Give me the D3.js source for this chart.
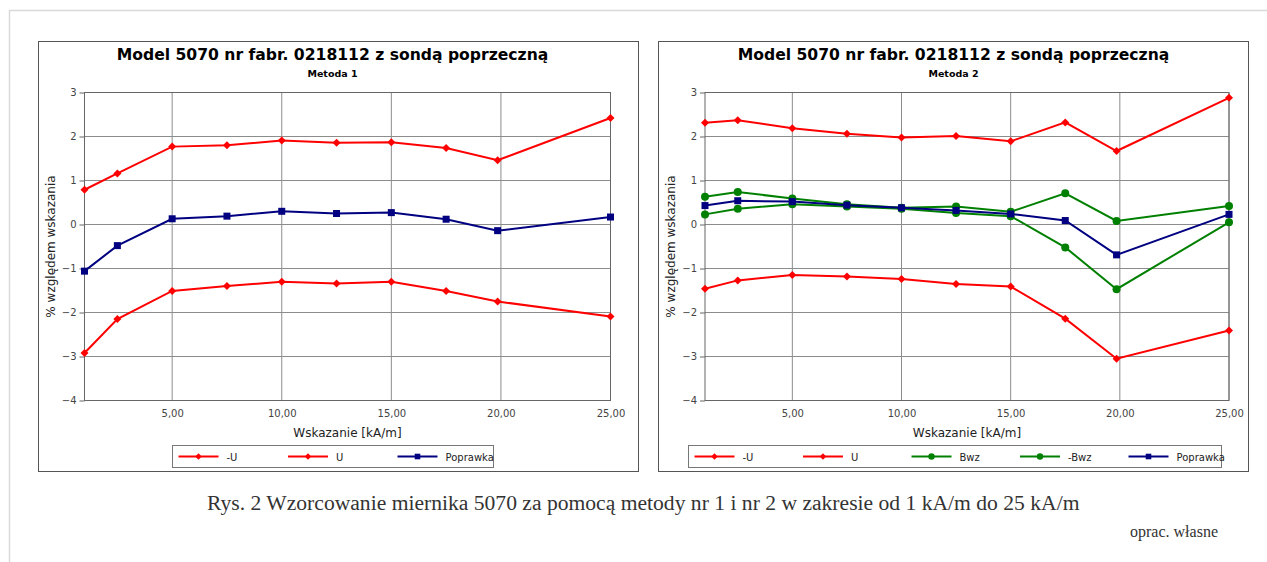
<!DOCTYPE html>
<html>
<head>
<meta charset="utf-8">
<script src="https://cdn.jsdelivr.net/npm/d3@7"></script>
<style>
  body { margin: 0; background: #fff; }
  svg { display: block; }
</style>
</head>
<body>
<div class="chart"></div>
<script>
// x positions of the measurements (kA/m)
const xVals = [1, 2.5, 5, 7.5, 10, 12.5, 15, 17.5, 19.85, 25];
const xTicks = [5, 10, 15, 20, 25];
const yTicks = [-4, -3, -2, -1, 0, 1, 2, 3];

// Metoda 1
const m1MinusU = [-2.92, -2.15, -1.51, -1.40, -1.30, -1.34, -1.30, -1.51, -1.75, -2.09];
const m1U = [0.79, 1.16, 1.77, 1.80, 1.91, 1.86, 1.87, 1.74, 1.46, 2.42];
const m1Poprawka = [-1.06, -0.48, 0.13, 0.19, 0.30, 0.25, 0.27, 0.12, -0.14, 0.17];

// Metoda 2
const m2MinusU = [-1.46, -1.27, -1.15, -1.18, -1.24, -1.35, -1.41, -2.14, -3.05, -2.41];
const m2U = [2.31, 2.37, 2.19, 2.06, 1.98, 2.01, 1.89, 2.32, 1.67, 2.88];
const m2Bwz = [0.63, 0.74, 0.59, 0.46, 0.38, 0.41, 0.29, 0.71, 0.08, 0.42];
const m2MinusBwz = [0.23, 0.36, 0.46, 0.41, 0.36, 0.26, 0.19, -0.52, -1.47, 0.05];
const m2Poprawka = [0.43, 0.54, 0.52, 0.44, 0.38, 0.32, 0.24, 0.09, -0.69, 0.23];

const title = "Model 5070 nr fabr. 0218112 z sondą poprzeczną";
const RED = "#ff0000", BLUE = "#000080", GREEN = "#008000";

const W = 1267, H = 562;
const svg = d3.select(".chart").append("svg")
  .attr("width", W).attr("height", H)
  .style("font-family", "DejaVu Sans");

// page frame
svg.append("path")
  .attr("d", "M9.5," + H + "V10.5H" + W)
  .attr("fill", "none").attr("stroke", "#d9d9d9").attr("stroke-width", 1.5);

const fmtX = v => d3.format(".2f")(v).replace(".", ",");

function marker(g, shape, color) {
  if (shape == "diamond") {
    g.append("path").attr("d", "M0,-4L4,0L0,4L-4,0Z").attr("fill", color);
  } else if (shape == "square") {
    g.append("rect").attr("x", -3.5).attr("y", -3.5).attr("width", 7).attr("height", 7).attr("fill", color);
  } else {
    g.append("circle").attr("r", 4).attr("fill", color);
  }
}

function drawPanel(p) {
  const g = svg.append("g");
  g.append("rect")
    .attr("x", p.box[0]).attr("y", p.box[1])
    .attr("width", p.box[2]).attr("height", p.box[3])
    .attr("fill", "#fff").attr("stroke", "#555");

  const x = d3.scaleLinear().domain([1, 25]).range([p.left, p.right]);
  const y = d3.scaleLinear().domain([-4, 3]).range([400.5, 92.5]);

  // grid
  g.append("g").selectAll("line").data(yTicks).join("line")
    .attr("x1", p.left).attr("x2", p.right)
    .attr("y1", d => y(d)).attr("y2", d => y(d))
    .attr("stroke", "#8c8c8c");
  g.append("g").selectAll("line").data(xTicks).join("line")
    .attr("x1", d => x(d)).attr("x2", d => x(d))
    .attr("y1", y(3)).attr("y2", y(-4))
    .attr("stroke", "#8c8c8c");
  g.append("rect")
    .attr("x", p.left).attr("y", y(3))
    .attr("width", p.right - p.left).attr("height", y(-4) - y(3))
    .attr("fill", "none").attr("stroke", "#666");

  const yAxis = d3.axisLeft(y).tickValues(yTicks).tickSize(5).tickPadding(3).tickFormat(d3.format("d"));
  g.append("g").attr("transform", `translate(${p.left},0)`).call(yAxis)
    .call(a => a.select(".domain").remove())
    .call(a => a.selectAll(".tick line").attr("stroke", "#666"))
    .call(a => a.selectAll("text").attr("fill", "#444").attr("font-size", 10).attr("font-family", "DejaVu Sans"));

  const xAxis = d3.axisBottom(x).tickValues(xTicks).tickSize(0).tickPadding(9).tickFormat(fmtX);
  g.append("g").attr("transform", `translate(0,${y(-4)})`).call(xAxis)
    .call(a => a.select(".domain").remove())
    .call(a => a.selectAll("text").attr("fill", "#444").attr("font-size", 10).attr("font-family", "DejaVu Sans"));

  // titles
  const cx = p.box[0] + p.box[2] / 2 + p.titleShift;
  g.append("text").attr("x", cx).attr("y", 60).attr("text-anchor", "middle")
    .attr("font-size", 15.6).attr("font-weight", "bold").text(title);
  g.append("text").attr("x", cx).attr("y", 77).attr("text-anchor", "middle")
    .attr("font-size", 9.5).attr("font-weight", "bold").text(p.sub);
  g.append("text").attr("x", (p.left + p.right) / 2).attr("y", 437).attr("text-anchor", "middle")
    .attr("font-size", 12).attr("fill", "#222").text("Wskazanie [kA/m]");
  g.append("text").attr("transform", `translate(${p.left - 30},${y(-0.5)}) rotate(-90)`)
    .attr("text-anchor", "middle").attr("font-size", 12).attr("fill", "#222")
    .text("% względem wskazania");

  // series
  const line = d3.line().x((d, i) => x(xVals[i])).y(d => y(d));
  p.series.forEach(s => {
    g.append("path").datum(s.values).attr("d", line)
      .attr("fill", "none").attr("stroke", s.color).attr("stroke-width", 2);
    g.append("g").selectAll("g").data(s.values).join("g")
      .attr("transform", (d, i) => `translate(${x(xVals[i])},${y(d)})`)
      .each(function() { marker(d3.select(this), s.shape, s.color); });
  });

  // legend
  const lg = g.append("g");
  lg.append("rect").attr("x", p.legend[0]).attr("y", 445.5)
    .attr("width", p.legend[1]).attr("height", 22)
    .attr("fill", "#fff").attr("stroke", "#777");
  p.series.slice().sort((a, b) => a.order - b.order).forEach((s, i) => {
    const lx = p.legend[0] + 6 + i * p.legend[2];
    lg.append("line").attr("x1", lx).attr("x2", lx + 40).attr("y1", 456.5).attr("y2", 456.5)
      .attr("stroke", s.color).attr("stroke-width", 2);
    const m = lg.append("g").attr("transform", `translate(${lx + 20},456.5) scale(0.8)`);
    marker(m, s.shape, s.color);
    lg.append("text").attr("x", lx + 48).attr("y", 460.5)
      .attr("font-size", 10).attr("fill", "#222").text(s.name);
  });
}

drawPanel({
  box: [38.5, 41.5, 600, 430], left: 84.5, right: 610.5, titleShift: -6,
  sub: "Metoda 1", legend: [172.5, 321, 109.5],
  series: [
    { name: "-U", values: m1MinusU, color: RED, shape: "diamond", order: 0 },
    { name: "U", values: m1U, color: RED, shape: "diamond", order: 1 },
    { name: "Poprawka", values: m1Poprawka, color: BLUE, shape: "square", order: 2 }
  ]
});

drawPanel({
  box: [658.5, 41.5, 590, 430], left: 705, right: 1229, titleShift: 0,
  sub: "Metoda 2", legend: [688.5, 533, 108.5],
  series: [
    { name: "-U", values: m2MinusU, color: RED, shape: "diamond", order: 0 },
    { name: "U", values: m2U, color: RED, shape: "diamond", order: 1 },
    { name: "Bwz", values: m2Bwz, color: GREEN, shape: "circle", order: 2 },
    { name: "-Bwz", values: m2MinusBwz, color: GREEN, shape: "circle", order: 3 },
    { name: "Poprawka", values: m2Poprawka, color: BLUE, shape: "square", order: 4 }
  ]
});

// caption
svg.append("text").attr("x", 207).attr("y", 510)
  .attr("font-family", "Liberation Serif").attr("font-size", 21.6).attr("fill", "#333")
  .text("Rys. 2 Wzorcowanie miernika 5070 za pomocą metody nr 1 i nr 2 w zakresie od 1 kA/m do 25 kA/m");
svg.append("text").attr("x", 1218).attr("y", 537).attr("text-anchor", "end")
  .attr("font-family", "Liberation Serif").attr("font-size", 16).attr("fill", "#333")
  .text("oprac. własne");
</script>
</body>
</html>
